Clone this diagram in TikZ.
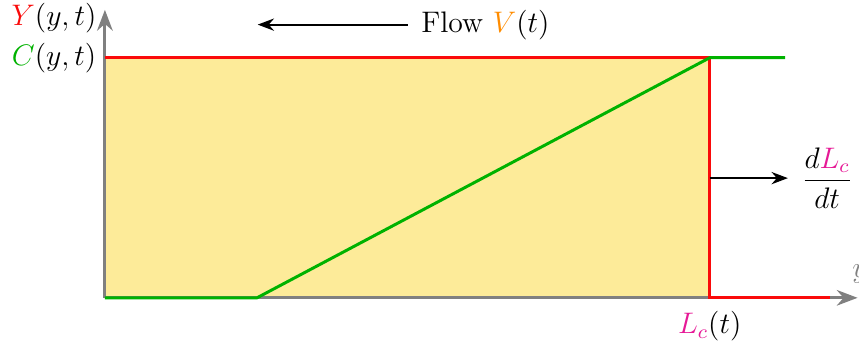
\documentclass[tikz,border=0pt]{standalone}
\usepackage{amsmath,amssymb}
\usepackage{xcolor}
\usetikzlibrary{arrows.meta, positioning}
\definecolor{frontred}{RGB}{250,10,10}
\definecolor{concgreen}{RGB}{0,178,0}
\definecolor{fillyellow}{RGB}{253,235,153}
\definecolor{lenpink}{RGB}{230,25,150}
\definecolor{flowor}{RGB}{255,140,0}
\tikzset{
  axis/.style  ={-Stealth, very thick, draw=gray},
  front/.style ={very thick, draw=frontred},
  conc/.style  ={very thick, draw=concgreen},
  arr/.style   ={-Stealth, thick, black},
  lbl/.style   ={font=\large},
}

\begin{document}
\begin{tikzpicture}
  \useasboundingbox (-1.49,-0.6) rectangle (10.71,4.23);

  % ── Filled region ──────────────────────────────────────────────────
  \fill[fillyellow] (0,0) rectangle (8.59,3.41);

  % ── Axes ───────────────────────────────────────────────────────────
  \coordinate (O) at (0,0);
  \draw[axis] (O) -- (10.69,0) node[above right=2pt and -6pt, lbl, gray] (ylab) {$y$};
  \draw[axis] (O) -- (0,4.09);

  % ── Front Y(y,t) ───────────────────────────────────────────────────
  \coordinate (yt) at (0,3.41);
  \coordinate (ytr) at (8.59,3.41);
  \coordinate (ybr) at (8.59,0);
  \coordinate (yend) at (10.3,0);
  \draw[front] (yt) -- (ytr) -- (ybr) -- (yend);

  % ── Profile C(y,t) ─────────────────────────────────────────────────
  \coordinate (c1) at (2.16,0);
  \coordinate (c2) at (9.66,3.41);
  \draw[conc] (O) -- (c1) -- (ytr) -- (c2);

  % ── Labels ─────────────────────────────────────────────────────────
  \node[lbl, left=0pt of yt] (clab) {${\color{concgreen}C}(y,t)$};
  \node[lbl, above=-3pt of clab] (Ylab) {${\color{frontred}Y}(y,t)$};
  \node[lbl, below=2pt of ybr] (Llab) {${\color{lenpink}L_c}(t)$};

  % flow direction
  \coordinate (fs) at (4.30,3.88);
  \coordinate (fe) at (2.17,3.88);
  \draw[arr] (fs) -- (fe);
  \node[lbl, right=2pt of fs] (flow) {Flow ${\color{flowor}V}(t)$};

  % front speed
  \coordinate (ds) at (8.59,1.70);
  \coordinate (de) at (9.70,1.70);
  \draw[arr] (ds) -- (de);
  \node[lbl, right=2pt of de] (dlab) {$\dfrac{d{\color{lenpink}L_c}}{dt}$};

\end{tikzpicture}
\end{document}
